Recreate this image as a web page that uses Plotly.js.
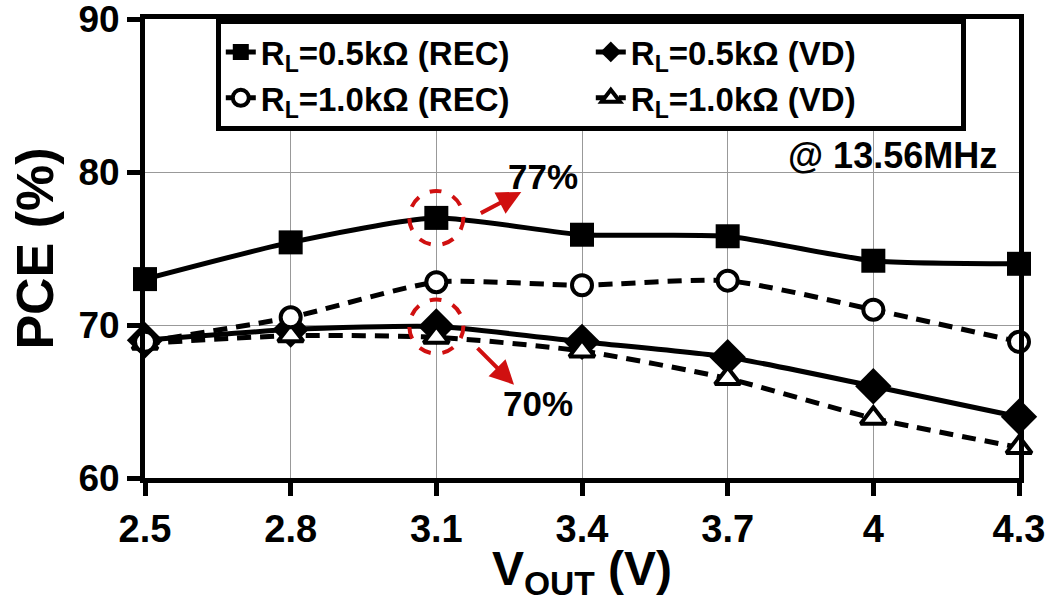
<!DOCTYPE html>
<html>
<head>
<meta charset="utf-8">
<script src="https://cdn.plot.ly/plotly-3.0.1.min.js"></script>
<style>html,body{margin:0;padding:0;background:#fff;}#chart{width:1050px;height:602px;}</style>
</head>
<body>
<div id="chart"></div>
<script>
const vout = [2.5, 2.8, 3.1, 3.4, 3.7, 4.0, 4.3];
const tickLabels = ["2.5", "2.8", "3.1", "3.4", "3.7", "4", "4.3"];
const rec05 = [73.0, 75.4, 77.0, 75.9, 75.8, 74.2, 74.0];
const rec10 = [68.9, 70.5, 72.8, 72.6, 72.9, 71.0, 68.9];
const vd05 = [69.0, 69.7, 69.9, 68.9, 67.9, 66.0, 64.0];
const vd10 = [68.8, 69.3, 69.2, 68.3, 66.5, 63.9, 62.0];
const names = ["R<sub>L</sub>=0.5kΩ (REC)", "R<sub>L</sub>=0.5kΩ (VD)", "R<sub>L</sub>=1.0kΩ (REC)", "R<sub>L</sub>=1.0kΩ (VD)"];
const peakRec = 77, peakVd = 69.9;

const F = "Liberation Sans, Arial, sans-serif";
const solid = {color: "#000", width: 5, shape: "spline", smoothing: 0.6};
const dashed = {color: "#000", width: 5, shape: "spline", smoothing: 0.6, dash: "14px,9px"};

const traces = [
  {x: vout, y: rec05, name: names[0], mode: "lines+markers", line: solid, legendrank: 1, cliponaxis: false,
   marker: {symbol: "square", size: 24, color: "#000"}},
  {x: vout, y: vd05, name: names[1], mode: "lines+markers", line: solid, legendrank: 2, cliponaxis: false,
   marker: {symbol: "diamond", size: 28, color: "#000"}},
  {x: vout, y: vd10, name: names[3], mode: "lines+markers", line: dashed, legendrank: 4, cliponaxis: false,
   marker: {symbol: "triangle-up", size: 22, color: "#fff", line: {color: "#000", width: 4}}},
  {x: vout, y: rec10, name: names[2], mode: "lines+markers", line: dashed, legendrank: 3, cliponaxis: false,
   marker: {symbol: "circle", size: 20, color: "#fff", line: {color: "#000", width: 4}}}
];

const red = "#d01010";
const layout = {
  width: 1050, height: 602,
  margin: {l: 145, r: 31, t: 19, b: 124},
  paper_bgcolor: "#fff", plot_bgcolor: "#fff",
  font: {family: F, color: "#000"},
  showlegend: true,
  legend: {
    orientation: "h", x: 0.081, xanchor: "left", y: 1, yanchor: "top",
    bgcolor: "#fff", bordercolor: "#000", borderwidth: 5,
    font: {family: F, size: 33, weight: "bold"},
    entrywidth: 325, entrywidthmode: "pixels", traceorder: "normal"
  },
  xaxis: {
    range: [2.5, 4.3], tickvals: vout, ticktext: tickLabels,
    showline: true, linewidth: 5, linecolor: "#000", mirror: true,
    ticks: "outside", ticklen: 13, tickwidth: 5, tickcolor: "#000",
    showgrid: true, gridcolor: "#999", gridwidth: 1, zeroline: false,
    ticklabeloverflow: "allow",
    tickfont: {family: F, size: 38, weight: "bold"},
    title: {text: "V<sub>OUT</sub> (V)", font: {family: F, size: 48, weight: "bold"}, standoff: 6}
  },
  yaxis: {
    range: [60, 90], tickvals: [60, 70, 80, 90],
    showline: true, linewidth: 5, linecolor: "#000", mirror: true,
    ticks: "outside", ticklen: 13, tickwidth: 5, tickcolor: "#000",
    showgrid: true, gridcolor: "#999", gridwidth: 1, zeroline: false,
    ticklabeloverflow: "allow",
    tickfont: {family: F, size: 37, weight: "bold"},
    title: {text: "PCE (%)", font: {family: F, size: 52, weight: "bold"}, standoff: 10}
  },
  shapes: [
    {type: "circle", xref: "x", yref: "y", xsizemode: "pixel", ysizemode: "pixel",
     xanchor: vout[2], yanchor: peakRec, x0: -27, x1: 27, y0: -27, y1: 27,
     line: {color: red, width: 4, dash: "dash"}},
    {type: "circle", xref: "x", yref: "y", xsizemode: "pixel", ysizemode: "pixel",
     xanchor: vout[2], yanchor: peakVd, x0: -27, x1: 27, y0: -27, y1: 27,
     line: {color: red, width: 4, dash: "dash"}}
  ],
  annotations: [
    {x: 3.275, y: 78.7, xref: "x", yref: "y", text: "", showarrow: true,
     ax: -42, ay: 22, arrowcolor: red, arrowwidth: 4, arrowhead: 2, arrowsize: 1.2},
    {x: 3.26, y: 66.1, xref: "x", yref: "y", text: "", showarrow: true,
     ax: -38, ay: -38, arrowcolor: red, arrowwidth: 4, arrowhead: 2, arrowsize: 1.2},
    {x: 3.32, y: 79.7, xref: "x", yref: "y", text: "77%", showarrow: false,
     font: {family: F, size: 35, weight: "bold"}},
    {x: 3.31, y: 64.9, xref: "x", yref: "y", text: "70%", showarrow: false,
     font: {family: F, size: 35, weight: "bold"}},
    {x: 4.04, y: 81.1, xref: "x", yref: "y", text: "@ 13.56MHz", showarrow: false,
     font: {family: F, size: 36, weight: "bold"}}
  ]
};

Plotly.newPlot("chart", traces, layout, {displayModeBar: false, staticPlot: true});
</script>
</body>
</html>
